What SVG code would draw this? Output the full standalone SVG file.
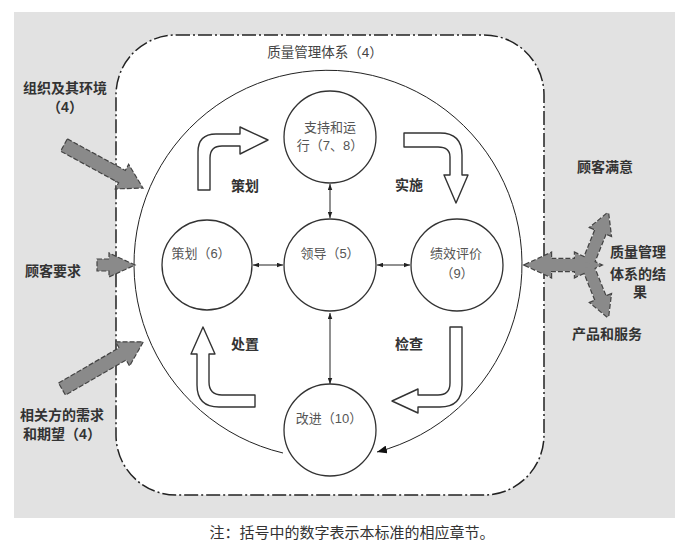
<svg xmlns="http://www.w3.org/2000/svg" width="684" height="545" viewBox="0 0 684 545">
<style>
.t{font-family:"Liberation Sans","Noto Sans CJK SC",sans-serif;text-anchor:middle}
.c{font-size:13px;fill:#555}
.l{font-size:14px;font-weight:bold;fill:#333}
.node{fill:#fff;stroke:#333;stroke-width:1.3}
.hollow{fill:#fff;stroke:#333;stroke-width:1.4;stroke-linejoin:round}
.gs{fill:#8a8a8a;stroke:#444;stroke-width:1.2;stroke-dasharray:5 2}
.gs2{fill:#8a8a8a;stroke:#444;stroke-width:2.4;stroke-dasharray:5 2}
.gf{fill:#8a8a8a;stroke:none}
.thin{stroke:#222;stroke-width:1;fill:none}
</style>
<defs>
<marker id="ah" viewBox="0 0 8 6" refX="8" refY="3" markerWidth="6" markerHeight="5" markerUnits="userSpaceOnUse" orient="auto-start-reverse">
<path d="M0,0 L8,3 L0,6 Z" fill="#222"/>
</marker>
<marker id="ahb" viewBox="0 0 10 8" refX="10" refY="4" markerWidth="10" markerHeight="8" markerUnits="userSpaceOnUse" orient="auto">
<path d="M0,0 L10,4 L0,8 Z" fill="#111"/>
</marker>
</defs>
<rect x="14" y="12" width="661" height="506" fill="#e2e2e2"/>
<g id="qms">
<rect x="116" y="35" width="428" height="460" rx="60" ry="60" fill="#fff" stroke="#222" stroke-width="1.5" stroke-dasharray="14 3 2 3"/>
<text class="t" x="325" y="56.5" style="font-size:13.5px;fill:#444">质量管理体系（4）</text>
</g>
<g id="connectors">
<path class="thin" d="M283,453 A194,194 0 1 1 377,452" stroke-width="1.2" marker-end="url(#ahb)"/>
<line class="thin" x1="330" y1="184" x2="330" y2="218" marker-start="url(#ah)" marker-end="url(#ah)"/>
<line class="thin" x1="253" y1="265" x2="283" y2="265" marker-start="url(#ah)" marker-end="url(#ah)"/>
<line class="thin" x1="377" y1="265" x2="410" y2="265" marker-start="url(#ah)" marker-end="url(#ah)"/>
<line class="thin" x1="330" y1="313" x2="330" y2="384" marker-start="url(#ah)" marker-end="url(#ah)"/>
</g>
<g id="cycle-arrows">
<path class="hollow" d="M198,190 L198,152 Q198,134 216,134 L240,134 L240,127 L268,140 L240,154 L240,146 L222,146 Q210,146 210,158 L210,190 Z"/>
<path class="hollow" d="M404,133 L440,133 Q462,133 462,155 L462,175 L468,175 L456,203 L444,175 L450,175 L450,157 Q450,147 438,147 L404,147 Z"/>
<path class="hollow" d="M450,327 L462,327 L462,385 Q462,407 440,407 L418,407 L418,413 L392,401 L418,389 L418,395 L438,395 Q450,395 450,383 Z"/>
<path class="hollow" d="M255,395 L222,395 Q209,395 209,382 L209,354 L215,354 L203,327 L191,354 L197,354 L197,385 Q197,407 219,407 L255,407 Z"/>
</g>
<g id="node-support">
<circle class="node" cx="330" cy="137" r="46"/>
<text class="t c" x="330" y="131.5">支持和运</text>
<text class="t c" x="330" y="149.5">行（7、8）</text>
</g>
<g id="node-leadership">
<circle class="node" cx="330" cy="265" r="46"/>
<text class="t c" x="330" y="257.5">领导（5）</text>
</g>
<g id="node-planning">
<circle class="node" cx="207" cy="265" r="45"/>
<text class="t c" x="201" y="257.5">策划（6）</text>
</g>
<g id="node-evaluation">
<circle class="node" cx="457" cy="265" r="46"/>
<text class="t c" x="456" y="257.5">绩效评价</text>
<text class="t c" x="457" y="277.5">（9）</text>
</g>
<g id="node-improvement">
<circle class="node" cx="330" cy="430" r="46"/>
<text class="t c" x="329" y="422.5">改进（10）</text>
</g>
<g id="cycle-labels">
<text class="t l" x="245" y="191">策划</text>
<text class="t l" x="409" y="190">实施</text>
<text class="t l" x="245" y="349">处置</text>
<text class="t l" x="409" y="349">检查</text>
</g>
<g id="input-org">
<polygon class="gs" transform="translate(64,145) rotate(28.6)" points="0,-7 66,-7 66,-14 90,0 66,14 66,7 0,7"/>
<text class="t l" x="65" y="93">组织及其环境</text>
<text class="t l" x="65" y="112">（4）</text>
</g>
<g id="input-customer">
<polygon class="gs" points="97,259 109,259 109,253 135,265 109,277 109,271 97,271"/>
<text class="t l" x="53" y="276">顾客要求</text>
</g>
<g id="input-parties">
<polygon class="gs" transform="translate(62,389) rotate(-30.1)" points="0,-7 70,-7 70,-14 94,0 70,14 70,7 0,7"/>
<text class="t l" x="62" y="420">相关方的需求</text>
<text class="t l" x="62" y="439">和期望（4）</text>
</g>
<g id="output-results">
<polygon class="gs2" points="525,265 551,253 551,259 575,259 575,253 601,265 575,277 575,271 551,271 551,277"/>
<polygon class="gs2" transform="translate(588,263) rotate(-68.2)" points="0,-5.5 34,-5.5 34,-11 54,0 34,11 34,5.5 0,5.5"/>
<polygon class="gs2" transform="translate(588,267) rotate(68.2)" points="0,-5.5 34,-5.5 34,-11 54,0 34,11 34,5.5 0,5.5"/>
<polygon class="gf" points="525,265 551,253 551,259 575,259 575,253 601,265 575,277 575,271 551,271 551,277"/>
<polygon class="gf" transform="translate(588,263) rotate(-68.2)" points="0,-5.5 34,-5.5 34,-11 54,0 34,11 34,5.5 0,5.5"/>
<polygon class="gf" transform="translate(588,267) rotate(68.2)" points="0,-5.5 34,-5.5 34,-11 54,0 34,11 34,5.5 0,5.5"/>
<text class="t l" x="605" y="172">顾客满意</text>
<text class="t l" x="638" y="257">质量管理</text>
<text class="t l" x="638" y="279">体系的结</text>
<text class="t l" x="640" y="297">果</text>
<text class="t l" x="607" y="339">产品和服务</text>
</g>
<text class="t" x="352" y="538" style="font-size:15px;fill:#333">注：括号中的数字表示本标准的相应章节。</text>
</svg>
